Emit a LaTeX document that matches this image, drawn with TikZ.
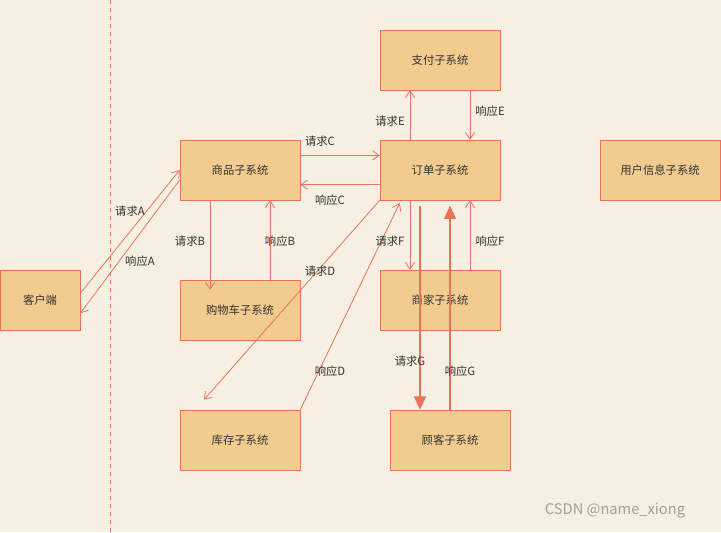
\documentclass[tikz,border=0pt]{standalone}
\usepackage{fontspec}
\setmainfont{Noto Sans CJK SC}
\usetikzlibrary{arrows.meta}
\definecolor{bg}{HTML}{F5F0E1}
\definecolor{boxf}{HTML}{F2CB8F}
\definecolor{boxd}{HTML}{E8735A}
\definecolor{txt}{HTML}{333333}
\begin{document}
\begin{tikzpicture}[x=0.75pt,y=-0.75pt,
  sys/.style={draw=boxd,fill=boxf,minimum width=90pt,minimum height=45pt,inner sep=0pt,font=\fontsize{8.5}{10}\selectfont,text=txt},
  con/.style={draw=boxd,line width=0.6pt,-{Straight Barb[length=5pt,width=7pt]}},
  big/.style={draw=boxd,line width=0.9pt,-{Triangle[length=10pt,width=9pt]}},
  lab/.style={font=\fontsize{8.5}{10}\selectfont,text=txt,inner sep=1pt}]
\fill[bg] (0,0) rectangle (721,532);
\useasboundingbox (0,0) rectangle (721,532);
\draw[boxd,dashed,line width=0.6pt] (110,0) -- (110,532);
\node[sys,minimum width=60pt] (kh) at (40,300) {客户端};
\node[sys] (sp) at (240,170) {商品子系统};
\node[sys] (gw) at (240,310) {购物车子系统};
\node[sys] (kc) at (240,440) {库存子系统};
\node[sys] (zf) at (440,60) {支付子系统};
\node[sys] (dd) at (440,170) {订单子系统};
\node[sys] (sj) at (440,300) {商家子系统};
\node[sys] (gk) at (450,440) {顾客子系统};
\node[sys] (yh) at (660,170) {用户信息子系统};
% A
\draw[con] ([yshift=5pt]kh.east) -- ([yshift=0pt]sp.west);
\draw[con] ([yshift=-7.5pt]sp.west) -- ([yshift=-10pt]kh.east);
\node[lab] at (130,211) {请求A};
\node[lab] at (140,261) {响应A};
% C
\draw[con] ([yshift=11pt]sp.east) -- ([yshift=11pt]dd.west);
\draw[con] ([yshift=-11pt]dd.west) -- ([yshift=-11pt]sp.east);
\node[lab] at (320,141) {请求C};
\node[lab] at (330,200) {响应C};
% B
\draw[con] ([xshift=-22.5pt]sp.south) -- ([xshift=-22.5pt,yshift=-7.5pt]gw.north);
\draw[con] ([xshift=22.5pt]gw.north) -- ([xshift=22.5pt]sp.south);
\node[lab] at (190,241) {请求B};
\node[lab] at (280,241) {响应B};
% D
\draw[con] (dd.south west) -- ([xshift=-27pt,yshift=7.5pt]kc.north);
\draw[con] (kc.north east) -- ([xshift=15pt,yshift=-2pt]dd.south west);
\node[lab] at (320,271) {请求D};
\node[lab] at (330,371) {响应D};
% E
\draw[con] ([xshift=-22.5pt]dd.north) -- ([xshift=-22.5pt]zf.south);
\draw[con] ([xshift=22.5pt]zf.south) -- ([xshift=22.5pt]dd.north);
\node[lab] at (390,121) {请求E};
\node[lab] at (490,111) {响应E};
% F
\draw[con] ([xshift=-22.5pt]dd.south) -- ([xshift=-22.5pt]sj.north);
\draw[con] ([xshift=22.5pt]sj.north) -- ([xshift=22.5pt]dd.south);
\node[lab] at (390,241) {请求F};
\node[lab] at (490,241) {响应F};
% G
\draw[big] ([xshift=-15pt,yshift=-4pt]dd.south) -- ([xshift=-22.5pt]gk.north);
\draw[big] (gk.north) -- ([xshift=7.5pt,yshift=-4pt]dd.south);
\node[lab] at (410,361) {请求G};
\node[lab] at (460,371) {响应G};
\node[font=\fontsize{11}{13}\selectfont,text=gray!75,inner sep=0pt] (wm) at (615,511) {CSDN @name\_xiong};
\end{tikzpicture}
\end{document}
